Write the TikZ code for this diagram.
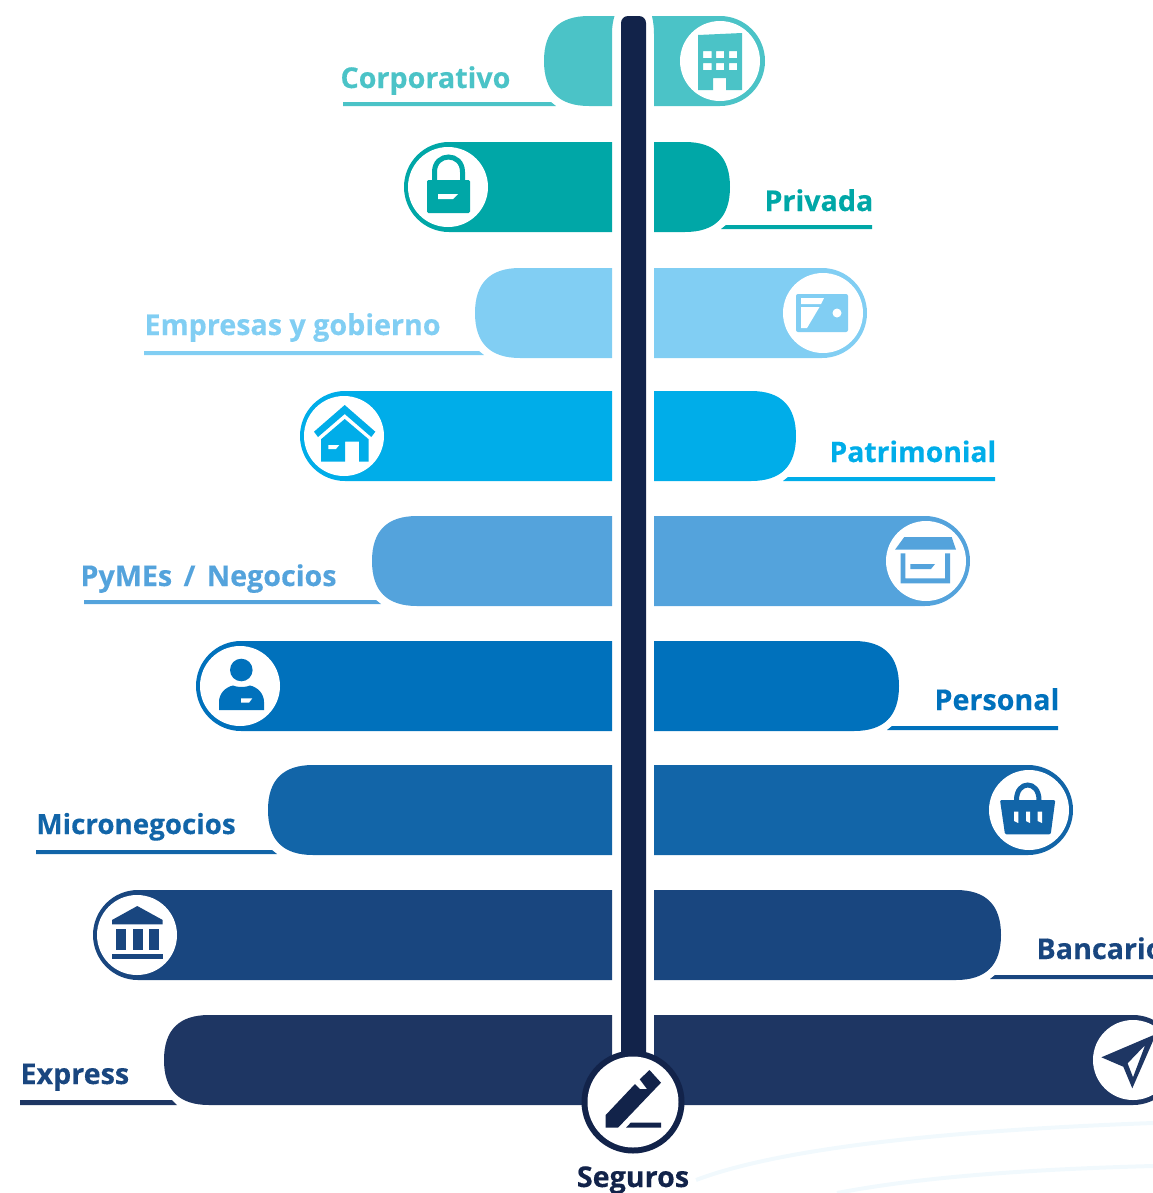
\documentclass[tikz,border=0pt]{standalone}
\usepackage{fontspec}
\setmainfont{Open Sans}[BoldFeatures={FakeBold=0.3}]
\definecolor{corpcol}{HTML}{4BC3C7}
\definecolor{privcol}{HTML}{00A7A7}
\definecolor{emprcol}{HTML}{81CEF3}
\definecolor{patrcol}{HTML}{00ADE9}
\definecolor{pymecol}{HTML}{54A3DC}
\definecolor{perscol}{HTML}{0071BC}
\definecolor{micrcol}{HTML}{1265A8}
\definecolor{bancol}{HTML}{19467F}
\definecolor{exprcol}{HTML}{1E3663}
\definecolor{segcol}{HTML}{12234A}
\definecolor{swoosh}{HTML}{F1F9FD}
\tikzset{every picture/.style={line width=0.75pt}}
\tikzset{seglabel/.style={anchor=base west,inner sep=0pt,font=\fontsize{21.5}{24}\selectfont\bfseries}}
\tikzset{disc/.style={fill=white}}

\begin{document}
\begin{tikzpicture}[x=0.75pt,y=0.75pt,yscale=-1,xscale=1]
    \clip (0,0) rectangle (1153,1193);

    %Curve Lines: background
    \draw [swoosh,line width=3pt]  (696,1180) .. controls (775,1150) and (931,1131) .. (1153,1123) ;
    \draw [swoosh,line width=3pt]  (837,1193) .. controls (905,1180) and (1000,1170) .. (1153,1166) ;

    %Shape: Corporativo
    \fill [corpcol]  (614.5,16) -- (589,16) .. controls (559,16) and (544,31) .. (544,61) .. controls (544,91) and (559,106) .. (589,106) -- (612,106) -- (612,34) .. controls (612,26) and (613,21) .. (614.5,16) -- cycle ;
    \fill [corpcol]  (652,16) -- (720,16) arc (-90:90:45) -- (654,106) -- (654,34) .. controls (654,26) and (653,21) .. (652,16) -- cycle ;
    \fill [disc]  (720,61) circle (40) ;
    \fill [corpcol]  (343,102) -- (551,102) -- (556,106) -- (343,106) -- cycle ;
    %Icon: building
    \fill [corpcol,even odd rule]  (698,35) -- (742,33) -- (742,90) -- (726,90) -- (726,78) -- (713,78) -- (713,90) -- (698,90) -- cycle
      (703,51) rectangle (711.5,58) (716,51) rectangle (724,58) (729,51) rectangle (737,58)
      (703,63) rectangle (711.5,70) (716,63) rectangle (724,70) (729,63) rectangle (737,70) ;

    %Shape: Privada
    \fill [privcol]  (612,142) -- (449,142) arc (270:90:45) -- (612,232) -- cycle ;
    \fill [privcol]  (654,142) -- (685,142) .. controls (715,142) and (730,157) .. (730,187) .. controls (730,217) and (715,232) .. (685,232) -- (654,232) -- cycle ;
    \fill [disc]  (448,187) circle (40) ;
    \fill [privcol]  (872,225) -- (726,225) -- (721,229) -- (872,229) -- cycle ;
    %Icon: lock
    \draw [privcol,line width=3.75pt]  (434.5,181) -- (434.5,172) .. controls (434.5,152) and (462.5,152) .. (462.5,172) -- (462.5,181) ;
    \fill [privcol,even odd rule,rounded corners=1pt]  (427,180) rectangle (470,213) ;
    \fill [white]  (438,194) -- (458,194) -- (453,199) -- (438,199) -- cycle ;

    %Shape: Empresas y gobierno
    \fill [emprcol]  (612,268) -- (520,268) .. controls (490,268) and (475,283) .. (475,313) .. controls (475,343) and (490,358) .. (520,358) -- (612,358) -- cycle ;
    \fill [emprcol]  (654,268) -- (822,268) arc (-90:90:45) -- (654,358) -- cycle ;
    \fill [disc]  (823,313) circle (40) ;
    \fill [emprcol]  (144,351) -- (479,351) -- (484,355) -- (144,355) -- cycle ;
    %Icon: card
    \fill [emprcol,rounded corners=1.5pt]  (796,294) rectangle (848,332) ;
    \fill [white]  (801,298) -- (824,298) -- (821,304) -- (801,304) -- cycle ;
    \fill [white]  (801,307) -- (819.5,307) -- (807,328) -- (801,328) -- cycle ;
    \fill [white]  (837,313) circle (4.5) ;

    %Shape: Patrimonial
    \fill [patrcol]  (612,391) -- (345,391) arc (270:90:45) -- (612,481) -- cycle ;
    \fill [patrcol]  (654,391) -- (751,391) .. controls (781,391) and (796,406) .. (796,436) .. controls (796,466) and (781,481) .. (751,481) -- (654,481) -- cycle ;
    \fill [disc]  (344,436) circle (40) ;
    \fill [patrcol]  (995,477) -- (788,477) -- (783,481) -- (995,481) -- cycle ;
    %Icon: house
    \fill [patrcol]  (344.7,405) -- (375.3,431.7) -- (371.3,437) -- (344.7,414) -- (318,437) -- (314,431.7) -- cycle ;
    \fill [patrcol]  (344.7,419) -- (368.7,439.3) -- (368.7,461.7) -- (359,461.7) -- (359,441.7) -- (345,441.7) -- (345,461.7) -- (321,461.7) -- (321,439.3) -- cycle ;
    \fill [white]  (328.3,445) -- (339.3,445) -- (336,449) -- (328.3,449) -- cycle ;

    %Shape: PyMEs / Negocios
    \fill [pymecol]  (612,516) -- (417,516) .. controls (387,516) and (372,531) .. (372,561) .. controls (372,591) and (387,606) .. (417,606) -- (612,606) -- cycle ;
    \fill [pymecol]  (654,516) -- (925,516) arc (-90:90:45) -- (654,606) -- cycle ;
    \fill [disc]  (926,561) circle (40) ;
    \fill [pymecol]  (84,600) -- (376,600) -- (381,604) -- (84,604) -- cycle ;
    %Icon: box
    \fill [pymecol]  (904.3,537) -- (951.7,537) -- (956,549.7) -- (895,549.7) -- cycle ;
    \fill [pymecol]  (900.7,553.3) -- (905.3,553.3) -- (905.3,578.3) -- (945,578.3) -- (945,553.3) -- (950,553.3) -- (950,583.3) -- (900.7,583.3) -- cycle ;
    \fill [pymecol]  (910.3,564) -- (935,564) -- (931,569) -- (910.3,569) -- cycle ;

    %Shape: Personal
    \fill [perscol]  (612,641) -- (241,641) arc (270:90:45) -- (612,731) -- cycle ;
    \fill [perscol]  (654,641) -- (854,641) .. controls (884,641) and (899,656) .. (899,686) .. controls (899,716) and (884,731) .. (854,731) -- (654,731) -- cycle ;
    \fill [disc]  (240,686) circle (40) ;
    \fill [perscol]  (1058,726) -- (892,726) -- (887,730) -- (1058,730) -- cycle ;
    %Icon: person
    \fill [perscol]  (241.3,670) circle (11.3) ;
    \fill [perscol]  (219,710) -- (219,702) .. controls (219,693) and (226,687) .. (233,685.5) .. controls (237,687.5) and (246,687.5) .. (250,685.5) .. controls (257,687) and (264,693) .. (264,702) -- (264,710) -- cycle ;
    \fill [white]  (241,698.3) -- (252.3,698.3) -- (249,702.7) -- (241,702.7) -- cycle ;

    %Shape: Micronegocios
    \fill [micrcol]  (612,765) -- (313,765) .. controls (283,765) and (268,780) .. (268,810) .. controls (268,840) and (283,855) .. (313,855) -- (612,855) -- cycle ;
    \fill [micrcol]  (654,765) -- (1028,765) arc (-90:90:45) -- (654,855) -- cycle ;
    \fill [disc]  (1029,810) circle (40) ;
    \fill [micrcol]  (36,850) -- (272,850) -- (277,854) -- (36,854) -- cycle ;
    %Icon: basket
    \draw [micrcol,line width=3.75pt]  (1016.5,801) -- (1016.5,800) .. controls (1016.5,780) and (1039,780) .. (1039,800) -- (1039,801) ;
    \fill [micrcol,rounded corners=1pt]  (1000,800) -- (1055.3,800) -- (1050.7,834.3) -- (1005,834.3) -- cycle ;
    \fill [white]  (1014,811.7) -- (1018.3,811.7) -- (1018.3,823) -- (1014,821) -- cycle ;
    \fill [white]  (1026,811.7) -- (1030,811.7) -- (1030,823) -- (1026,821) -- cycle ;
    \fill [white]  (1037.7,811.7) -- (1042,811.7) -- (1042,823) -- (1037.7,821) -- cycle ;

    %Shape: Bancario
    \fill [bancol]  (612,890) -- (138,890) arc (270:90:45) -- (612,980) -- cycle ;
    \fill [bancol]  (654,890) -- (956,890) .. controls (986,890) and (1001,905) .. (1001,935) .. controls (1001,965) and (986,980) .. (956,980) -- (654,980) -- cycle ;
    \fill [disc]  (137,935) circle (40) ;
    \fill [bancol]  (1160,975) -- (995,975) -- (990,979) -- (1160,979) -- cycle ;
    %Icon: bank
    \fill [bancol]  (137.3,906) -- (162.7,920) -- (162.7,924.3) -- (112,924.3) -- (112,920) -- cycle ;
    \fill [bancol]  (116,929) rectangle (126,950) ;
    \fill [bancol]  (133,929) rectangle (143,950) ;
    \fill [bancol]  (149,929) rectangle (159,950) ;
    \fill [bancol]  (112,954) rectangle (162.7,959) ;

    %Shape: Express
    \fill [exprcol]  (612,1015) -- (209,1015) .. controls (179,1015) and (164,1030) .. (164,1060) .. controls (164,1090) and (179,1105) .. (209,1105) -- (612,1105) -- cycle ;
    \fill [exprcol]  (654,1015) -- (1133,1015) arc (-90:90:45) -- (654,1105) -- cycle ;
    \fill [disc]  (1133,1060) circle (40) ;
    \fill [exprcol]  (20,1100) -- (172,1100) -- (177,1105) -- (20,1105) -- cycle ;
    %Icon: plane
    \fill [exprcol,even odd rule,line join=round]  (1101.4,1057.3) -- (1156,1034) -- (1132.3,1088.3) -- (1123.3,1066.7) -- cycle
      (1145.2,1045) -- (1127.6,1063.3) -- (1133,1077.3) -- cycle ;

    %Shape: pole
    \fill [segcol,rounded corners=5.25pt]  (621,1070) -- (621,16) -- (646,16) -- (646,1070) -- cycle ;
    \fill [segcol]  (633,1102) circle (51.5) ;
    \fill [disc]  (633,1102) circle (45.5) ;
    %Icon: pen
    \fill [segcol]  (605.7,1127.7) -- (605.7,1115) -- (635,1084) -- (640,1089) -- (647,1089) -- (639.7,1079.3) -- (649.5,1070) -- (661,1082.7) -- (618,1127.7) -- cycle ;
    \fill [segcol]  (630.7,1122.7) -- (661,1122.7) -- (661,1127.7) -- (626,1127.7) -- cycle ;

    % Text Node
    \node (corporativo) [seglabel,text=corpcol] at (340,88) {Corporativo};
    % Text Node
    \node (privada) [seglabel,text=privcol] at (764,211) {Privada};
    % Text Node
    \node (empresas) [seglabel,text=emprcol] at (144,335) {Empresas y gobierno};
    % Text Node
    \node (patrimonial) [seglabel,text=patrcol,font=\fontsize{21.2}{24}\selectfont\bfseries] at (829,462) {Patrimonial};
    % Text Node
    \node (pymes) [seglabel,text=pymecol] at (80,586) {PyMEs\hspace{3pt} / \hspace{3pt}Negocios};
    % Text Node
    \node (personal) [seglabel,text=perscol] at (934,710) {Personal};
    % Text Node
    \node (micronegocios) [seglabel,text=micrcol,font=\fontsize{20.8}{24}\selectfont\bfseries] at (36,834) {Micronegocios};
    % Text Node
    \node (bancario) [seglabel,text=bancol] at (1036,959) {Bancario};
    % Text Node
    \node (express) [seglabel,text=bancol] at (20,1084) {Express};
    % Text Node
    \node (seguros) [seglabel,anchor=base,text=segcol] at (633,1187) {Seguros};
\end{tikzpicture}
\end{document}
